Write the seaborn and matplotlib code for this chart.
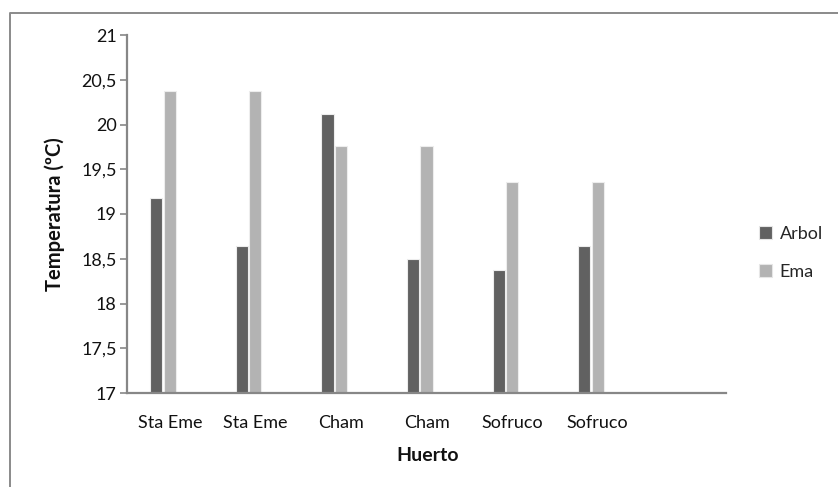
import matplotlib
matplotlib.use("Agg")
import matplotlib.pyplot as plt
from matplotlib.lines import Line2D
from matplotlib.patches import Patch
import pandas as pd
import seaborn as sns

# Temperaturas medias por huerto: sensor en árbol vs estación meteorológica (EMA)
huertos = ["Sta Eme", "Sta Eme", "Cham", "Cham", "Sofruco", "Sofruco", ""]
arbol = [19.18, 18.64, 20.12, 18.50, 18.37, 18.64]
ema = [20.37, 20.37, 19.76, 19.76, 19.36, 19.36]
series = ["Arbol", "Ema"]
yticks = [17, 17.5, 18, 18.5, 19, 19.5, 20, 20.5, 21]

n_cat = len(huertos)
rows = []
for i, (a, e) in enumerate(zip(arbol, ema)):
    rows.append({"pos": i, "serie": "Arbol", "temp": a})
    rows.append({"pos": i, "serie": "Ema", "temp": e})
df = pd.DataFrame(rows)

sns.set_style("white")
plt.rcParams["font.family"] = ["Lato", "DejaVu Sans"]

colors = {"Arbol": "#616161", "Ema": "#b3b3b3", "Sin dato": "#ffffff"}

fig = plt.figure(figsize=(8.38, 4.87), dpi=100)
ax = fig.add_axes([127 / 838, 1 - 393 / 487, (726 - 127) / 838, (393 - 35) / 487])

sns.barplot(
    data=df, x="pos", y="temp", hue="serie",
    order=list(range(n_cat)), hue_order=["Arbol", "Ema", "Sin dato"],
    palette=colors, width=0.47, gap=0.1, errorbar=None, legend=False,
    edgecolor="#ededed", linewidth=0.8, ax=ax,
)

ax.set_ylim(17, 21)
ax.set_xlim(-0.5, n_cat - 0.5)
ax.set_yticks(yticks)
ax.set_yticklabels([f"{v:g}".replace(".", ",") for v in yticks])
ax.set_xticks(range(n_cat))
ax.set_xticklabels(huertos)

axis_col = "#878787"
for side in ["top", "right"]:
    ax.spines[side].set_visible(False)
for side in ["left", "bottom"]:
    ax.spines[side].set_color(axis_col)
    ax.spines[side].set_linewidth(1.6)

ax.tick_params(axis="y", which="major", left=True, length=5, width=1.2,
               color=axis_col, pad=2.5, labelsize=13, labelcolor="#111111")
ax.tick_params(axis="x", which="major", bottom=False, length=0, pad=16,
               labelsize=13, labelcolor="#111111")

ax.set_ylabel("Temperatura (ºC)", fontsize=14.5, fontweight="bold", color="#111111")
ax.set_xlabel("Huerto", fontsize=14, fontweight="bold", color="#111111")
ax.yaxis.set_label_coords(-0.104, 0.5)
ax.xaxis.set_label_coords(0.502, -0.15)

handles = [Patch(facecolor=colors[s], edgecolor="#e6e6e6", linewidth=0.8) for s in series]
fig.legend(handles, series, loc="center left",
           bbox_to_anchor=(759 / 838, 1 - 253 / 487), frameon=False,
           fontsize=13, handlelength=0.72, handleheight=0.72,
           handletextpad=0.42, labelspacing=1.2, borderpad=0, borderaxespad=0)

# Marco del gráfico
frame_col = "#8a8a8a"
fig.add_artist(Line2D([9.5 / 838, 9.5 / 838, 1.0], [0.0, 1 - 13 / 487, 1 - 13 / 487],
                      transform=fig.transFigure, color=frame_col, linewidth=1.4))

fig.savefig("out.png", dpi=100, facecolor="white")
